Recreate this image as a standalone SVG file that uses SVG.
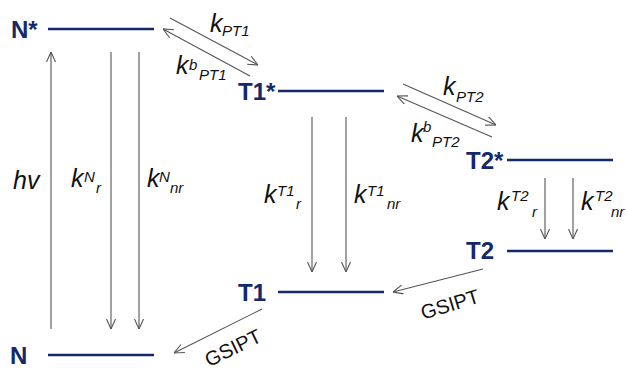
<svg xmlns="http://www.w3.org/2000/svg" width="627" height="371" viewBox="0 0 627 371">
<style>
.lvl{stroke:#13296b;stroke-width:2.5;fill:none}
.lbl{font-family:"Liberation Sans",Arial,sans-serif;font-weight:bold;font-size:24px;fill:#13296b}
.arr{stroke:#555;stroke-width:1.1;fill:none;marker-end:url(#ah)}
.k{font-family:"Liberation Sans",Arial,sans-serif;font-style:italic;font-size:25px;fill:#111}
.s{font-size:15px}
.g{font-family:"Liberation Sans",Arial,sans-serif;font-size:20px;fill:#111}
</style>
<defs>
<marker id="ah" viewBox="0 0 10 10" refX="10" refY="5" markerWidth="10" markerHeight="10" markerUnits="userSpaceOnUse" orient="auto">
<path d="M0,0.5 L10,5 L0,9.5" stroke="#555" stroke-width="1.1" fill="none"/>
</marker>
</defs>
<rect width="627" height="371" fill="#fff"/>
<g id="Nstar"><text class="lbl" x="11" y="38">N*</text><line class="lvl" x1="48" y1="29" x2="154" y2="29"/></g>
<g id="T1star"><text class="lbl" x="238" y="100">T1*</text><line class="lvl" x1="278" y1="91" x2="384" y2="91"/></g>
<g id="T2star"><text class="lbl" x="466" y="169">T2*</text><line class="lvl" x1="507" y1="160" x2="613" y2="160"/></g>
<g id="T2"><text class="lbl" x="466" y="259">T2</text><line class="lvl" x1="507" y1="251" x2="613" y2="251"/></g>
<g id="T1"><text class="lbl" x="238" y="301">T1</text><line class="lvl" x1="278" y1="292" x2="384" y2="292"/></g>
<g id="N"><text class="lbl" x="10" y="364">N</text><line class="lvl" x1="48" y1="355" x2="154" y2="355"/></g>
<g id="connectors">
<line class="arr" x1="51" y1="329" x2="51" y2="52"/>
<line class="arr" x1="111" y1="52" x2="111" y2="329"/>
<line class="arr" x1="139" y1="52" x2="139" y2="329"/>
<line class="arr" x1="312" y1="117" x2="312" y2="272"/>
<line class="arr" x1="346" y1="117" x2="346" y2="272"/>
<line class="arr" x1="545" y1="178" x2="545" y2="239"/>
<line class="arr" x1="573" y1="178" x2="573" y2="239"/>
<line class="arr" x1="170" y1="18" x2="258" y2="65"/>
<line class="arr" x1="250" y1="76" x2="163" y2="29"/>
<line class="arr" x1="403" y1="84" x2="496" y2="125"/>
<line class="arr" x1="492" y1="137" x2="397" y2="96"/>
<line class="arr" x1="483" y1="269" x2="393" y2="292"/>
<line class="arr" x1="262" y1="309" x2="174" y2="353"/>
</g>
<g id="labels">
<text class="k" x="13" y="189">hv</text>
<text class="k"><tspan x="71" y="187">k</tspan><tspan class="s" x="84" y="182">N</tspan><tspan class="s" x="96" y="193">r</tspan></text>
<text class="k"><tspan x="147" y="187">k</tspan><tspan class="s" x="159" y="182">N</tspan><tspan class="s" x="170" y="193">nr</tspan></text>
<text class="k"><tspan x="264" y="203">k</tspan><tspan class="s" x="277" y="196">T1</tspan><tspan class="s" x="296" y="209">r</tspan></text>
<text class="k"><tspan x="354" y="203">k</tspan><tspan class="s" x="367" y="196">T1</tspan><tspan class="s" x="387" y="209">nr</tspan></text>
<text class="k"><tspan x="497" y="210">k</tspan><tspan class="s" x="511" y="201">T2</tspan><tspan class="s" x="532" y="217">r</tspan></text>
<text class="k"><tspan x="581" y="210">k</tspan><tspan class="s" x="595" y="201">T2</tspan><tspan class="s" x="611" y="217">nr</tspan></text>
<text class="k"><tspan x="210" y="32">k</tspan><tspan class="s" x="222" y="36">PT1</tspan></text>
<text class="k"><tspan x="176" y="74">k</tspan><tspan class="s" x="189" y="70">b</tspan><tspan class="s" x="199" y="80">PT1</tspan></text>
<text class="k"><tspan x="443" y="95">k</tspan><tspan class="s" x="456" y="102">PT2</tspan></text>
<text class="k"><tspan x="411" y="142">k</tspan><tspan class="s" x="423" y="132">b</tspan><tspan class="s" x="432" y="147">PT2</tspan></text>
<text class="g" x="452" y="311" text-anchor="middle" transform="rotate(-17 452 311)">GSIPT</text>
<text class="g" x="236" y="354" text-anchor="middle" transform="rotate(-26 236 354)">GSIPT</text>
</g>
</svg>
